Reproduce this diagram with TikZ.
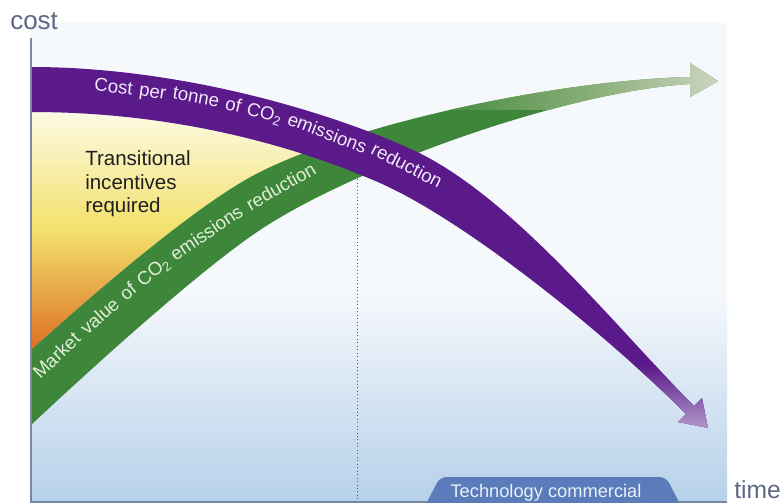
\documentclass[tikz,border=0pt]{standalone}
\usepackage{fontspec}
\setmainfont{Liberation Sans}
\definecolor{Purp}{HTML}{5B1A8A}
\definecolor{PurpLight}{HTML}{B7A0CE}
\definecolor{Grn}{HTML}{3E873A}
\definecolor{GrnMid}{HTML}{8DB07C}
\definecolor{GrnPale}{HTML}{CDD5C0}
\definecolor{PanelTop}{HTML}{F6F9FC}
\definecolor{PanelBot}{HTML}{B6D0EA}
\definecolor{YTop}{HTML}{FDFBEA}
\definecolor{YMid}{HTML}{F3E16C}
\definecolor{YBot}{HTML}{DC6A22}
\definecolor{AxisLine}{HTML}{7787A3}
\definecolor{AxisText}{HTML}{5E6883}
\definecolor{TabBlue}{HTML}{5A7CBB}
\definecolor{TabText}{HTML}{E9EFF8}
\definecolor{PurpText}{HTML}{F1E9F8}
\definecolor{GrnText}{HTML}{E3EFD9}
\definecolor{DotLine}{HTML}{4B5670}
\begin{document}
\begin{tikzpicture}[x=0.75pt,y=-0.75pt,
  bandtext/.style={anchor=base,inner sep=0pt,font=\fontsize{14}{16}\selectfont},
  ptext/.style={bandtext,text=PurpText},
  gtext/.style={bandtext,text=GrnText},
  axislabel/.style={anchor=base west,inner sep=0pt,text=AxisText,font=\fontsize{19.5}{24}\selectfont},
  inctext/.style={anchor=base west,inner sep=0pt,text=black!88,font=\fontsize{15.4}{18}\selectfont},
  axisline/.style={draw=AxisLine,line width=0.9pt},
  dotline/.style={draw=DotLine,line width=0.6pt,dotted},
]
\useasboundingbox (0,0) rectangle (782,503);
\fill[white] (0,0) rectangle (782,503);
% panel background
\fill[PanelTop] (31,23) rectangle (727,503);
\shade[top color=PanelTop,bottom color=PanelBot] (31,290) rectangle (727,503);
% transitional region
\begin{scope}
  \clip (31,112) .. controls (180,112) and (300,148) .. (380,183) -- (380,430) -- (31,430) -- cycle;
  \clip (31,350) .. controls (100,288) and (200,202) .. (260,172) .. controls (360,122) and (560,80) .. (690,77) -- (690,60) -- (31,60) -- cycle;
  \shade[top color=YTop,bottom color=YBot,middle color=YMid] (31,105) rectangle (380,355);
\end{scope}
% dotted line
\coordinate (dtop) at (357,176);
\coordinate (dbot) at (357,502);
\draw[dotline] (dtop) -- (dbot);
% green band
\begin{scope}
  \clip (31,350) .. controls (100,288) and (200,202) .. (260,172) .. controls (360,122) and (560,80) .. (690,77) -- (690,63) -- (718,81) -- (690,97) -- (690,84) .. controls (560,92) and (350,170) .. (260,230) .. controls (200,270) and (95,365) .. (31,425) -- cycle;
  \fill[Grn] (20,40) rectangle (730,440);
  \shade[left color=Grn,right color=GrnMid] (420,50) rectangle (600,110);
  \shade[left color=GrnMid,right color=GrnPale] (600,50) rectangle (720,110);
\end{scope}
% purple band
\begin{scope}
  \clip (31,67) .. controls (180,67) and (330,112) .. (413,150) .. controls (513,196) and (619,331) .. (694,406) -- (702,398) -- (708,428) -- (678,422) -- (686,414) .. controls (611,339) and (470,223) .. (380,183) .. controls (300,148) and (180,112) .. (31,112) -- cycle;
  \fill[Purp] (20,50) rectangle (730,440);
  \shade[top color=Purp,bottom color=PurpLight] (600,365) rectangle (720,432);
\end{scope}
% axes
\coordinate (ytop) at (31,38);
\coordinate (origin) at (31,502);
\coordinate (xend) at (727,502);
\draw[axisline] (ytop) -- (origin) -- (xend);
% tab
\fill[TabBlue,rounded corners=5] (425,506) -- (440,477) -- (666,477) -- (681,506) -- cycle;
\node[anchor=base,inner sep=0pt,text=TabText,font=\fontsize{13.7}{16}\selectfont] (tech) at (546,497) {Technology commercial};
% axis labels
\node[axislabel] (cost) at (10,30) {cost};
\node[axislabel,font=\fontsize{18.5}{22}\selectfont] (time) at (734,498) {time};
% transitional text
\node[inctext] (inc1) at (85,165) {Transitional};
\node[inctext] (inc2) at (85,189) {incentives};
\node[inctext] (inc3) at (85,212) {required};
% purple label
\node[ptext,rotate=-6] (p1) at (113,93) {Cost};
\node[ptext,rotate=-8] (p2) at (152,97.5) {per};
\node[ptext,rotate=-10] (p3) at (195,103) {tonne};
\node[ptext,rotate=-13] (p4) at (232,111) {of};
\node[ptext,rotate=-16] (p5) at (263,119) {CO\textsubscript{2}};
\node[ptext,rotate=-21] (p6) at (325,139) {emissions};
\node[ptext,rotate=-27] (p7) at (404,171) {reduction};
% green label
\node[gtext,rotate=44] (g1) at (61,360) {Market};
\node[gtext,rotate=42] (g2) at (104,321) {value};
\node[gtext,rotate=40] (g3) at (132,296) {of};
\node[gtext,rotate=38] (g4) at (157,276) {CO\textsubscript{2}};
\node[gtext,rotate=34] (g5) at (210,238) {emissions};
\node[gtext,rotate=30] (g6) at (284,192) {reduction};
\end{tikzpicture}
\end{document}
